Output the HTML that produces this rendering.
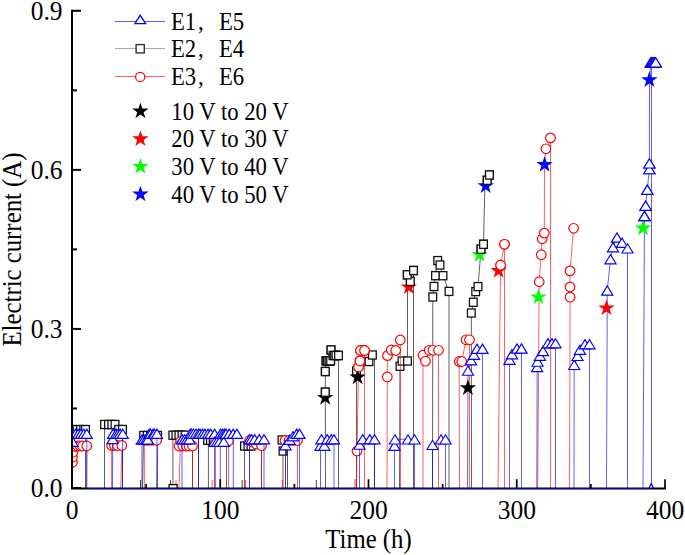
<!DOCTYPE html>
<html><head><meta charset="utf-8"><title>Electric current vs time</title>
<style>html,body{margin:0;padding:0;background:#fff;} svg{display:block;}</style>
</head><body>
<svg width="685" height="555" viewBox="0 0 685 555">
<defs><clipPath id="pc"><rect x="73" y="0" width="600" height="488"/></clipPath></defs>
<g clip-path="url(#pc)">
<path d="M72.50,429.60L77.00,429.60L80.50,429.60L83.70,429.60L85.50,429.60L85.50,488.00" fill="none" stroke="#000000" stroke-width="0.63"/>
<rect x="68.65" y="425.55" width="7.7" height="8.1" fill="#fff" stroke="#111" stroke-width="1.3"/>
<rect x="73.15" y="425.55" width="7.7" height="8.1" fill="#fff" stroke="#111" stroke-width="1.3"/>
<rect x="76.65" y="425.55" width="7.7" height="8.1" fill="#fff" stroke="#111" stroke-width="1.3"/>
<rect x="79.85" y="425.55" width="7.7" height="8.1" fill="#fff" stroke="#111" stroke-width="1.3"/>
<rect x="81.65" y="425.55" width="7.7" height="8.1" fill="#fff" stroke="#111" stroke-width="1.3"/>
<path d="M104.50,488.00L104.50,424.50L108.50,424.50L111.80,424.50L115.00,424.50L118.60,429.50L122.50,429.50L122.50,488.00" fill="none" stroke="#000000" stroke-width="0.63"/>
<rect x="100.65" y="420.45" width="7.7" height="8.1" fill="#fff" stroke="#111" stroke-width="1.3"/>
<rect x="104.65" y="420.45" width="7.7" height="8.1" fill="#fff" stroke="#111" stroke-width="1.3"/>
<rect x="107.95" y="420.45" width="7.7" height="8.1" fill="#fff" stroke="#111" stroke-width="1.3"/>
<rect x="111.15" y="420.45" width="7.7" height="8.1" fill="#fff" stroke="#111" stroke-width="1.3"/>
<rect x="114.75" y="425.45" width="7.7" height="8.1" fill="#fff" stroke="#111" stroke-width="1.3"/>
<rect x="118.65" y="425.45" width="7.7" height="8.1" fill="#fff" stroke="#111" stroke-width="1.3"/>
<path d="M142.50,488.00L143.60,435.50L147.20,435.50L150.50,435.50L154.00,435.50L157.60,435.50L157.50,488.00" fill="none" stroke="#000000" stroke-width="0.63"/>
<rect x="139.75" y="431.45" width="7.7" height="8.1" fill="#fff" stroke="#111" stroke-width="1.3"/>
<rect x="143.35" y="431.45" width="7.7" height="8.1" fill="#fff" stroke="#111" stroke-width="1.3"/>
<rect x="146.65" y="431.45" width="7.7" height="8.1" fill="#fff" stroke="#111" stroke-width="1.3"/>
<rect x="150.15" y="431.45" width="7.7" height="8.1" fill="#fff" stroke="#111" stroke-width="1.3"/>
<rect x="153.75" y="431.45" width="7.7" height="8.1" fill="#fff" stroke="#111" stroke-width="1.3"/>
<path d="M173.00,488.00L172.80,435.20L175.90,435.20L178.90,435.20L182.00,435.20L185.10,435.20L192.50,435.20L192.50,488.00" fill="none" stroke="#000000" stroke-width="0.63"/>
<rect x="168.95" y="431.15" width="7.7" height="8.1" fill="#fff" stroke="#111" stroke-width="1.3"/>
<rect x="172.05" y="431.15" width="7.7" height="8.1" fill="#fff" stroke="#111" stroke-width="1.3"/>
<rect x="175.05" y="431.15" width="7.7" height="8.1" fill="#fff" stroke="#111" stroke-width="1.3"/>
<rect x="178.15" y="431.15" width="7.7" height="8.1" fill="#fff" stroke="#111" stroke-width="1.3"/>
<rect x="181.25" y="431.15" width="7.7" height="8.1" fill="#fff" stroke="#111" stroke-width="1.3"/>
<path d="M208.40,488.00L208.40,440.30L207.60,440.30L210.40,440.30L213.20,440.30L226.50,440.30L226.50,488.00" fill="none" stroke="#000000" stroke-width="0.63"/>
<rect x="203.75" y="436.25" width="7.7" height="8.1" fill="#fff" stroke="#111" stroke-width="1.3"/>
<rect x="206.55" y="436.25" width="7.7" height="8.1" fill="#fff" stroke="#111" stroke-width="1.3"/>
<rect x="209.35" y="436.25" width="7.7" height="8.1" fill="#fff" stroke="#111" stroke-width="1.3"/>
<path d="M244.50,488.00L244.50,446.00L248.00,446.00L251.00,446.00L261.50,446.00L261.50,488.00" fill="none" stroke="#000000" stroke-width="0.63"/>
<rect x="240.65" y="441.95" width="7.7" height="8.1" fill="#fff" stroke="#111" stroke-width="1.3"/>
<rect x="244.15" y="441.95" width="7.7" height="8.1" fill="#fff" stroke="#111" stroke-width="1.3"/>
<rect x="247.15" y="441.95" width="7.7" height="8.1" fill="#fff" stroke="#111" stroke-width="1.3"/>
<path d="M283.00,488.00L283.00,451.00L282.00,440.00L287.50,440.00L287.50,488.00" fill="none" stroke="#000000" stroke-width="0.63"/>
<rect x="279.15" y="446.95" width="7.7" height="8.1" fill="#fff" stroke="#111" stroke-width="1.3"/>
<rect x="278.15" y="435.95" width="7.7" height="8.1" fill="#fff" stroke="#111" stroke-width="1.3"/>
<path d="M325.50,488.00L325.30,392.20L325.30,371.50L326.00,360.80L327.50,360.80L329.00,360.80L330.60,360.80L331.00,350.00L333.00,355.50L334.40,355.50L336.00,355.50L338.50,355.50L338.50,488.00" fill="none" stroke="#000000" stroke-width="0.63"/>
<rect x="321.45" y="388.15" width="7.7" height="8.1" fill="#fff" stroke="#111" stroke-width="1.3"/>
<rect x="321.45" y="367.45" width="7.7" height="8.1" fill="#fff" stroke="#111" stroke-width="1.3"/>
<rect x="322.15" y="356.75" width="7.7" height="8.1" fill="#fff" stroke="#111" stroke-width="1.3"/>
<rect x="323.65" y="356.75" width="7.7" height="8.1" fill="#fff" stroke="#111" stroke-width="1.3"/>
<rect x="325.15" y="356.75" width="7.7" height="8.1" fill="#fff" stroke="#111" stroke-width="1.3"/>
<rect x="326.75" y="356.75" width="7.7" height="8.1" fill="#fff" stroke="#111" stroke-width="1.3"/>
<rect x="327.15" y="345.95" width="7.7" height="8.1" fill="#fff" stroke="#111" stroke-width="1.3"/>
<rect x="329.15" y="351.45" width="7.7" height="8.1" fill="#fff" stroke="#111" stroke-width="1.3"/>
<rect x="330.55" y="351.45" width="7.7" height="8.1" fill="#fff" stroke="#111" stroke-width="1.3"/>
<rect x="332.15" y="351.45" width="7.7" height="8.1" fill="#fff" stroke="#111" stroke-width="1.3"/>
<rect x="334.65" y="351.45" width="7.7" height="8.1" fill="#fff" stroke="#111" stroke-width="1.3"/>
<path d="M356.50,488.00L356.50,371.00L360.00,362.00L369.00,361.50L372.40,355.00L374.50,358.00L374.50,488.00" fill="none" stroke="#000000" stroke-width="0.63"/>
<rect x="352.65" y="366.95" width="7.7" height="8.1" fill="#fff" stroke="#111" stroke-width="1.3"/>
<rect x="356.15" y="357.95" width="7.7" height="8.1" fill="#fff" stroke="#111" stroke-width="1.3"/>
<rect x="365.15" y="357.45" width="7.7" height="8.1" fill="#fff" stroke="#111" stroke-width="1.3"/>
<rect x="368.55" y="350.95" width="7.7" height="8.1" fill="#fff" stroke="#111" stroke-width="1.3"/>
<path d="M399.50,488.00L400.00,366.30L402.00,361.00L407.50,361.00L407.50,284.00L410.30,281.40L407.30,274.80L413.50,270.50L413.50,488.00" fill="none" stroke="#000000" stroke-width="0.63"/>
<rect x="396.15" y="362.25" width="7.7" height="8.1" fill="#fff" stroke="#111" stroke-width="1.3"/>
<rect x="398.15" y="356.95" width="7.7" height="8.1" fill="#fff" stroke="#111" stroke-width="1.3"/>
<rect x="403.65" y="356.95" width="7.7" height="8.1" fill="#fff" stroke="#111" stroke-width="1.3"/>
<rect x="406.45" y="277.35" width="7.7" height="8.1" fill="#fff" stroke="#111" stroke-width="1.3"/>
<rect x="403.45" y="270.75" width="7.7" height="8.1" fill="#fff" stroke="#111" stroke-width="1.3"/>
<rect x="409.65" y="266.45" width="7.7" height="8.1" fill="#fff" stroke="#111" stroke-width="1.3"/>
<path d="M432.50,488.00L432.80,297.00L434.00,286.50L435.50,275.70L437.70,260.60L440.00,265.00L443.00,275.70L449.00,291.40L449.00,488.00" fill="none" stroke="#000000" stroke-width="0.63"/>
<rect x="428.95" y="292.95" width="7.7" height="8.1" fill="#fff" stroke="#111" stroke-width="1.3"/>
<rect x="430.15" y="282.45" width="7.7" height="8.1" fill="#fff" stroke="#111" stroke-width="1.3"/>
<rect x="431.65" y="271.65" width="7.7" height="8.1" fill="#fff" stroke="#111" stroke-width="1.3"/>
<rect x="433.85" y="256.55" width="7.7" height="8.1" fill="#fff" stroke="#111" stroke-width="1.3"/>
<rect x="436.15" y="260.95" width="7.7" height="8.1" fill="#fff" stroke="#111" stroke-width="1.3"/>
<rect x="439.15" y="271.65" width="7.7" height="8.1" fill="#fff" stroke="#111" stroke-width="1.3"/>
<rect x="445.15" y="287.35" width="7.7" height="8.1" fill="#fff" stroke="#111" stroke-width="1.3"/>
<path d="M471.50,488.00L471.30,313.00L473.30,302.30L475.70,291.60L478.00,286.60L481.00,249.20L483.50,244.30L484.80,188.00L487.20,180.30L489.40,175.00" fill="none" stroke="#000000" stroke-width="0.63"/>
<rect x="467.45" y="308.95" width="7.7" height="8.1" fill="#fff" stroke="#111" stroke-width="1.3"/>
<rect x="469.45" y="298.25" width="7.7" height="8.1" fill="#fff" stroke="#111" stroke-width="1.3"/>
<rect x="471.85" y="287.55" width="7.7" height="8.1" fill="#fff" stroke="#111" stroke-width="1.3"/>
<rect x="474.15" y="282.55" width="7.7" height="8.1" fill="#fff" stroke="#111" stroke-width="1.3"/>
<rect x="477.15" y="245.15" width="7.7" height="8.1" fill="#fff" stroke="#111" stroke-width="1.3"/>
<rect x="479.65" y="240.25" width="7.7" height="8.1" fill="#fff" stroke="#111" stroke-width="1.3"/>
<rect x="483.35" y="176.25" width="7.7" height="8.1" fill="#fff" stroke="#111" stroke-width="1.3"/>
<rect x="485.55" y="170.95" width="7.7" height="8.1" fill="#fff" stroke="#111" stroke-width="1.3"/>
<path d="M72.50,462.30L72.50,457.30L73.00,452.20L75.00,446.50L77.50,446.00L80.00,446.00L82.50,446.00L86.80,446.00L86.50,488.00" fill="none" stroke="#ff0000" stroke-width="0.63"/>
<circle cx="72.50" cy="462.30" r="4.8" fill="#fff" stroke="#ff0000" stroke-width="1.2"/>
<circle cx="72.50" cy="457.30" r="4.8" fill="#fff" stroke="#ff0000" stroke-width="1.2"/>
<circle cx="73.00" cy="452.20" r="4.8" fill="#fff" stroke="#ff0000" stroke-width="1.2"/>
<circle cx="75.00" cy="446.50" r="4.8" fill="#fff" stroke="#ff0000" stroke-width="1.2"/>
<circle cx="77.50" cy="446.00" r="4.8" fill="#fff" stroke="#ff0000" stroke-width="1.2"/>
<circle cx="80.00" cy="446.00" r="4.8" fill="#fff" stroke="#ff0000" stroke-width="1.2"/>
<circle cx="82.50" cy="446.00" r="4.8" fill="#fff" stroke="#ff0000" stroke-width="1.2"/>
<circle cx="86.80" cy="446.00" r="4.8" fill="#fff" stroke="#ff0000" stroke-width="1.2"/>
<path d="M111.60,488.00L111.60,445.50L114.50,445.50L117.50,445.50L121.80,445.50L120.80,488.00" fill="none" stroke="#ff0000" stroke-width="0.63"/>
<circle cx="111.60" cy="445.50" r="4.8" fill="#fff" stroke="#ff0000" stroke-width="1.2"/>
<circle cx="114.50" cy="445.50" r="4.8" fill="#fff" stroke="#ff0000" stroke-width="1.2"/>
<circle cx="117.50" cy="445.50" r="4.8" fill="#fff" stroke="#ff0000" stroke-width="1.2"/>
<circle cx="121.80" cy="445.50" r="4.8" fill="#fff" stroke="#ff0000" stroke-width="1.2"/>
<path d="M144.40,488.00L144.40,440.30L148.00,440.30L152.00,440.30L156.60,440.30" fill="none" stroke="#ff0000" stroke-width="0.63"/>
<circle cx="144.40" cy="440.30" r="4.8" fill="#fff" stroke="#ff0000" stroke-width="1.2"/>
<circle cx="148.00" cy="440.30" r="4.8" fill="#fff" stroke="#ff0000" stroke-width="1.2"/>
<circle cx="152.00" cy="440.30" r="4.8" fill="#fff" stroke="#ff0000" stroke-width="1.2"/>
<circle cx="156.60" cy="440.30" r="4.8" fill="#fff" stroke="#ff0000" stroke-width="1.2"/>
<path d="M179.00,488.00L180.50,441.50L179.00,446.00L182.80,446.00L186.20,446.00L189.00,446.00L192.50,446.00L192.50,488.00" fill="none" stroke="#ff0000" stroke-width="0.63"/>
<circle cx="180.50" cy="441.50" r="4.8" fill="#fff" stroke="#ff0000" stroke-width="1.2"/>
<circle cx="179.00" cy="446.00" r="4.8" fill="#fff" stroke="#ff0000" stroke-width="1.2"/>
<circle cx="182.80" cy="446.00" r="4.8" fill="#fff" stroke="#ff0000" stroke-width="1.2"/>
<circle cx="186.20" cy="446.00" r="4.8" fill="#fff" stroke="#ff0000" stroke-width="1.2"/>
<circle cx="189.00" cy="446.00" r="4.8" fill="#fff" stroke="#ff0000" stroke-width="1.2"/>
<circle cx="192.50" cy="446.00" r="4.8" fill="#fff" stroke="#ff0000" stroke-width="1.2"/>
<path d="M215.50,488.00L215.50,441.00L219.00,441.00L222.00,441.00L225.00,441.00L228.50,441.00L228.50,488.00" fill="none" stroke="#ff0000" stroke-width="0.63"/>
<circle cx="215.50" cy="441.00" r="4.8" fill="#fff" stroke="#ff0000" stroke-width="1.2"/>
<circle cx="219.00" cy="441.00" r="4.8" fill="#fff" stroke="#ff0000" stroke-width="1.2"/>
<circle cx="222.00" cy="441.00" r="4.8" fill="#fff" stroke="#ff0000" stroke-width="1.2"/>
<circle cx="225.00" cy="441.00" r="4.8" fill="#fff" stroke="#ff0000" stroke-width="1.2"/>
<circle cx="228.50" cy="441.00" r="4.8" fill="#fff" stroke="#ff0000" stroke-width="1.2"/>
<path d="M249.50,488.00L249.50,440.50L252.50,442.00L256.00,444.00L261.50,445.70L261.50,488.00" fill="none" stroke="#ff0000" stroke-width="0.63"/>
<circle cx="249.50" cy="440.50" r="4.8" fill="#fff" stroke="#ff0000" stroke-width="1.2"/>
<circle cx="252.50" cy="442.00" r="4.8" fill="#fff" stroke="#ff0000" stroke-width="1.2"/>
<circle cx="256.00" cy="444.00" r="4.8" fill="#fff" stroke="#ff0000" stroke-width="1.2"/>
<circle cx="261.50" cy="445.70" r="4.8" fill="#fff" stroke="#ff0000" stroke-width="1.2"/>
<path d="M285.50,488.00L285.50,440.50L285.00,440.50L289.00,440.50L293.00,440.50L297.50,440.50L297.50,488.00" fill="none" stroke="#ff0000" stroke-width="0.63"/>
<circle cx="285.00" cy="440.50" r="4.8" fill="#fff" stroke="#ff0000" stroke-width="1.2"/>
<circle cx="289.00" cy="440.50" r="4.8" fill="#fff" stroke="#ff0000" stroke-width="1.2"/>
<circle cx="293.00" cy="440.50" r="4.8" fill="#fff" stroke="#ff0000" stroke-width="1.2"/>
<circle cx="297.50" cy="440.50" r="4.8" fill="#fff" stroke="#ff0000" stroke-width="1.2"/>
<path d="M356.50,488.00L357.00,451.00L358.50,367.00L360.00,361.00L360.50,350.50L364.50,350.50L364.50,488.00" fill="none" stroke="#ff0000" stroke-width="0.63"/>
<circle cx="357.00" cy="451.00" r="4.8" fill="#fff" stroke="#ff0000" stroke-width="1.2"/>
<circle cx="358.50" cy="367.00" r="4.8" fill="#fff" stroke="#ff0000" stroke-width="1.2"/>
<circle cx="360.00" cy="361.00" r="4.8" fill="#fff" stroke="#ff0000" stroke-width="1.2"/>
<circle cx="360.50" cy="350.50" r="4.8" fill="#fff" stroke="#ff0000" stroke-width="1.2"/>
<circle cx="364.50" cy="350.50" r="4.8" fill="#fff" stroke="#ff0000" stroke-width="1.2"/>
<path d="M387.00,488.00L387.30,377.00L387.50,355.60L391.30,350.00L395.70,350.50L400.30,340.00L400.50,488.00" fill="none" stroke="#ff0000" stroke-width="0.63"/>
<circle cx="387.30" cy="377.00" r="4.8" fill="#fff" stroke="#ff0000" stroke-width="1.2"/>
<circle cx="387.50" cy="355.60" r="4.8" fill="#fff" stroke="#ff0000" stroke-width="1.2"/>
<circle cx="391.30" cy="350.00" r="4.8" fill="#fff" stroke="#ff0000" stroke-width="1.2"/>
<circle cx="395.70" cy="350.50" r="4.8" fill="#fff" stroke="#ff0000" stroke-width="1.2"/>
<circle cx="400.30" cy="340.00" r="4.8" fill="#fff" stroke="#ff0000" stroke-width="1.2"/>
<path d="M423.00,488.00L423.00,355.20L425.50,361.20L429.20,350.30L433.00,350.30L438.50,350.30L438.50,488.00" fill="none" stroke="#ff0000" stroke-width="0.63"/>
<circle cx="423.00" cy="355.20" r="4.8" fill="#fff" stroke="#ff0000" stroke-width="1.2"/>
<circle cx="425.50" cy="361.20" r="4.8" fill="#fff" stroke="#ff0000" stroke-width="1.2"/>
<circle cx="429.20" cy="350.30" r="4.8" fill="#fff" stroke="#ff0000" stroke-width="1.2"/>
<circle cx="433.00" cy="350.30" r="4.8" fill="#fff" stroke="#ff0000" stroke-width="1.2"/>
<circle cx="438.50" cy="350.30" r="4.8" fill="#fff" stroke="#ff0000" stroke-width="1.2"/>
<path d="M459.50,488.00L459.20,361.50L461.80,361.50L466.00,339.80L469.50,339.80L469.50,488.00" fill="none" stroke="#ff0000" stroke-width="0.63"/>
<circle cx="459.20" cy="361.50" r="4.8" fill="#fff" stroke="#ff0000" stroke-width="1.2"/>
<circle cx="461.80" cy="361.50" r="4.8" fill="#fff" stroke="#ff0000" stroke-width="1.2"/>
<circle cx="466.00" cy="339.80" r="4.8" fill="#fff" stroke="#ff0000" stroke-width="1.2"/>
<circle cx="469.50" cy="339.80" r="4.8" fill="#fff" stroke="#ff0000" stroke-width="1.2"/>
<path d="M498.00,488.00L500.60,265.20L504.50,244.30L504.50,488.00" fill="none" stroke="#ff0000" stroke-width="0.63"/>
<circle cx="500.60" cy="265.20" r="4.8" fill="#fff" stroke="#ff0000" stroke-width="1.2"/>
<circle cx="504.50" cy="244.30" r="4.8" fill="#fff" stroke="#ff0000" stroke-width="1.2"/>
<path d="M537.70,488.00L539.20,281.70L541.30,254.70L542.20,238.80L544.30,233.10L544.50,164.00L545.90,148.80L550.50,137.90L550.50,488.00" fill="none" stroke="#ff0000" stroke-width="0.63"/>
<circle cx="539.20" cy="281.70" r="4.8" fill="#fff" stroke="#ff0000" stroke-width="1.2"/>
<circle cx="541.30" cy="254.70" r="4.8" fill="#fff" stroke="#ff0000" stroke-width="1.2"/>
<circle cx="542.20" cy="238.80" r="4.8" fill="#fff" stroke="#ff0000" stroke-width="1.2"/>
<circle cx="544.30" cy="233.10" r="4.8" fill="#fff" stroke="#ff0000" stroke-width="1.2"/>
<circle cx="545.90" cy="148.80" r="4.8" fill="#fff" stroke="#ff0000" stroke-width="1.2"/>
<circle cx="550.50" cy="137.90" r="4.8" fill="#fff" stroke="#ff0000" stroke-width="1.2"/>
<path d="M569.50,488.00L570.10,297.20L570.00,287.00L570.00,270.90L573.60,228.30" fill="none" stroke="#ff0000" stroke-width="0.63"/>
<circle cx="570.10" cy="297.20" r="4.8" fill="#fff" stroke="#ff0000" stroke-width="1.2"/>
<circle cx="570.00" cy="287.00" r="4.8" fill="#fff" stroke="#ff0000" stroke-width="1.2"/>
<circle cx="570.00" cy="270.90" r="4.8" fill="#fff" stroke="#ff0000" stroke-width="1.2"/>
<circle cx="573.60" cy="228.30" r="4.8" fill="#fff" stroke="#ff0000" stroke-width="1.2"/>
<path d="M72.50,488.00L72.50,441.50L73.00,433.60L75.50,433.60L78.30,433.60L81.00,433.60L83.80,433.60L86.80,433.60L86.80,488.00" fill="none" stroke="#0000ff" stroke-width="0.63"/>
<path d="M66.90,446.30L72.50,437.10L78.10,446.30Z" fill="#fff" stroke="#0000ff" stroke-width="1.15"/>
<path d="M67.40,438.40L73.00,429.20L78.60,438.40Z" fill="#fff" stroke="#0000ff" stroke-width="1.15"/>
<path d="M69.90,438.40L75.50,429.20L81.10,438.40Z" fill="#fff" stroke="#0000ff" stroke-width="1.15"/>
<path d="M72.70,438.40L78.30,429.20L83.90,438.40Z" fill="#fff" stroke="#0000ff" stroke-width="1.15"/>
<path d="M75.40,438.40L81.00,429.20L86.60,438.40Z" fill="#fff" stroke="#0000ff" stroke-width="1.15"/>
<path d="M78.20,438.40L83.80,429.20L89.40,438.40Z" fill="#fff" stroke="#0000ff" stroke-width="1.15"/>
<path d="M81.20,438.40L86.80,429.20L92.40,438.40Z" fill="#fff" stroke="#0000ff" stroke-width="1.15"/>
<path d="M112.50,488.00L112.70,438.80L113.10,433.50L116.10,433.50L118.10,433.50L120.20,433.50L122.70,433.50L122.50,488.00" fill="none" stroke="#0000ff" stroke-width="0.63"/>
<path d="M107.10,443.60L112.70,434.40L118.30,443.60Z" fill="#fff" stroke="#0000ff" stroke-width="1.15"/>
<path d="M107.50,438.30L113.10,429.10L118.70,438.30Z" fill="#fff" stroke="#0000ff" stroke-width="1.15"/>
<path d="M110.50,438.30L116.10,429.10L121.70,438.30Z" fill="#fff" stroke="#0000ff" stroke-width="1.15"/>
<path d="M112.50,438.30L118.10,429.10L123.70,438.30Z" fill="#fff" stroke="#0000ff" stroke-width="1.15"/>
<path d="M114.60,438.30L120.20,429.10L125.80,438.30Z" fill="#fff" stroke="#0000ff" stroke-width="1.15"/>
<path d="M117.10,438.30L122.70,429.10L128.30,438.30Z" fill="#fff" stroke="#0000ff" stroke-width="1.15"/>
<path d="M142.00,488.00L141.90,439.30L143.90,439.30L146.20,439.30L147.80,439.30L149.30,433.60L150.60,433.60L153.20,433.60L154.50,433.60L157.00,433.60L156.60,488.00" fill="none" stroke="#0000ff" stroke-width="0.63"/>
<path d="M136.30,444.10L141.90,434.90L147.50,444.10Z" fill="#fff" stroke="#0000ff" stroke-width="1.15"/>
<path d="M138.30,444.10L143.90,434.90L149.50,444.10Z" fill="#fff" stroke="#0000ff" stroke-width="1.15"/>
<path d="M140.60,444.10L146.20,434.90L151.80,444.10Z" fill="#fff" stroke="#0000ff" stroke-width="1.15"/>
<path d="M142.20,444.10L147.80,434.90L153.40,444.10Z" fill="#fff" stroke="#0000ff" stroke-width="1.15"/>
<path d="M143.70,438.40L149.30,429.20L154.90,438.40Z" fill="#fff" stroke="#0000ff" stroke-width="1.15"/>
<path d="M145.00,438.40L150.60,429.20L156.20,438.40Z" fill="#fff" stroke="#0000ff" stroke-width="1.15"/>
<path d="M147.60,438.40L153.20,429.20L158.80,438.40Z" fill="#fff" stroke="#0000ff" stroke-width="1.15"/>
<path d="M148.90,438.40L154.50,429.20L160.10,438.40Z" fill="#fff" stroke="#0000ff" stroke-width="1.15"/>
<path d="M151.40,438.40L157.00,429.20L162.60,438.40Z" fill="#fff" stroke="#0000ff" stroke-width="1.15"/>
<path d="M182.00,488.00L182.00,439.10L184.50,439.10L187.00,439.10L189.50,439.10L190.30,433.40L191.60,433.40L193.50,433.40L196.00,433.40L198.50,433.40L198.50,488.00" fill="none" stroke="#0000ff" stroke-width="0.63"/>
<path d="M176.40,443.90L182.00,434.70L187.60,443.90Z" fill="#fff" stroke="#0000ff" stroke-width="1.15"/>
<path d="M178.90,443.90L184.50,434.70L190.10,443.90Z" fill="#fff" stroke="#0000ff" stroke-width="1.15"/>
<path d="M181.40,443.90L187.00,434.70L192.60,443.90Z" fill="#fff" stroke="#0000ff" stroke-width="1.15"/>
<path d="M183.90,443.90L189.50,434.70L195.10,443.90Z" fill="#fff" stroke="#0000ff" stroke-width="1.15"/>
<path d="M184.70,438.20L190.30,429.00L195.90,438.20Z" fill="#fff" stroke="#0000ff" stroke-width="1.15"/>
<path d="M186.00,438.20L191.60,429.00L197.20,438.20Z" fill="#fff" stroke="#0000ff" stroke-width="1.15"/>
<path d="M187.90,438.20L193.50,429.00L199.10,438.20Z" fill="#fff" stroke="#0000ff" stroke-width="1.15"/>
<path d="M190.40,438.20L196.00,429.00L201.60,438.20Z" fill="#fff" stroke="#0000ff" stroke-width="1.15"/>
<path d="M192.90,438.20L198.50,429.00L204.10,438.20Z" fill="#fff" stroke="#0000ff" stroke-width="1.15"/>
<path d="M198.50,488.00L198.50,433.60L200.00,433.60L202.50,433.60L205.00,433.60L208.00,433.60L210.60,433.60L214.60,433.60L220.30,433.60L220.30,488.00" fill="none" stroke="#0000ff" stroke-width="0.63"/>
<path d="M194.40,438.40L200.00,429.20L205.60,438.40Z" fill="#fff" stroke="#0000ff" stroke-width="1.15"/>
<path d="M196.90,438.40L202.50,429.20L208.10,438.40Z" fill="#fff" stroke="#0000ff" stroke-width="1.15"/>
<path d="M199.40,438.40L205.00,429.20L210.60,438.40Z" fill="#fff" stroke="#0000ff" stroke-width="1.15"/>
<path d="M202.40,438.40L208.00,429.20L213.60,438.40Z" fill="#fff" stroke="#0000ff" stroke-width="1.15"/>
<path d="M205.00,438.40L210.60,429.20L216.20,438.40Z" fill="#fff" stroke="#0000ff" stroke-width="1.15"/>
<path d="M209.00,438.40L214.60,429.20L220.20,438.40Z" fill="#fff" stroke="#0000ff" stroke-width="1.15"/>
<path d="M214.50,488.00L214.50,441.50L217.00,441.50L219.50,441.50L223.70,441.50L220.50,433.60L222.60,433.60L224.50,433.60L226.00,433.60L229.20,433.60L233.20,433.60L236.90,433.60L233.30,438.00L233.30,488.00" fill="none" stroke="#0000ff" stroke-width="0.63"/>
<path d="M208.90,446.30L214.50,437.10L220.10,446.30Z" fill="#fff" stroke="#0000ff" stroke-width="1.15"/>
<path d="M211.40,446.30L217.00,437.10L222.60,446.30Z" fill="#fff" stroke="#0000ff" stroke-width="1.15"/>
<path d="M213.90,446.30L219.50,437.10L225.10,446.30Z" fill="#fff" stroke="#0000ff" stroke-width="1.15"/>
<path d="M218.10,446.30L223.70,437.10L229.30,446.30Z" fill="#fff" stroke="#0000ff" stroke-width="1.15"/>
<path d="M214.90,438.40L220.50,429.20L226.10,438.40Z" fill="#fff" stroke="#0000ff" stroke-width="1.15"/>
<path d="M217.00,438.40L222.60,429.20L228.20,438.40Z" fill="#fff" stroke="#0000ff" stroke-width="1.15"/>
<path d="M218.90,438.40L224.50,429.20L230.10,438.40Z" fill="#fff" stroke="#0000ff" stroke-width="1.15"/>
<path d="M220.40,438.40L226.00,429.20L231.60,438.40Z" fill="#fff" stroke="#0000ff" stroke-width="1.15"/>
<path d="M223.60,438.40L229.20,429.20L234.80,438.40Z" fill="#fff" stroke="#0000ff" stroke-width="1.15"/>
<path d="M227.60,438.40L233.20,429.20L238.80,438.40Z" fill="#fff" stroke="#0000ff" stroke-width="1.15"/>
<path d="M231.30,438.40L236.90,429.20L242.50,438.40Z" fill="#fff" stroke="#0000ff" stroke-width="1.15"/>
<path d="M249.50,488.00L249.50,439.00L251.50,439.00L254.60,439.00L259.30,439.00L264.00,439.00L264.00,488.00" fill="none" stroke="#0000ff" stroke-width="0.63"/>
<path d="M243.90,443.80L249.50,434.60L255.10,443.80Z" fill="#fff" stroke="#0000ff" stroke-width="1.15"/>
<path d="M245.90,443.80L251.50,434.60L257.10,443.80Z" fill="#fff" stroke="#0000ff" stroke-width="1.15"/>
<path d="M249.00,443.80L254.60,434.60L260.20,443.80Z" fill="#fff" stroke="#0000ff" stroke-width="1.15"/>
<path d="M253.70,443.80L259.30,434.60L264.90,443.80Z" fill="#fff" stroke="#0000ff" stroke-width="1.15"/>
<path d="M258.40,443.80L264.00,434.60L269.60,443.80Z" fill="#fff" stroke="#0000ff" stroke-width="1.15"/>
<path d="M285.50,488.00L285.50,445.00L289.50,439.50L293.00,436.00L296.60,433.60L299.50,433.60L299.50,488.00" fill="none" stroke="#0000ff" stroke-width="0.63"/>
<path d="M279.90,449.80L285.50,440.60L291.10,449.80Z" fill="#fff" stroke="#0000ff" stroke-width="1.15"/>
<path d="M283.90,444.30L289.50,435.10L295.10,444.30Z" fill="#fff" stroke="#0000ff" stroke-width="1.15"/>
<path d="M287.40,440.80L293.00,431.60L298.60,440.80Z" fill="#fff" stroke="#0000ff" stroke-width="1.15"/>
<path d="M291.00,438.40L296.60,429.20L302.20,438.40Z" fill="#fff" stroke="#0000ff" stroke-width="1.15"/>
<path d="M293.90,438.40L299.50,429.20L305.10,438.40Z" fill="#fff" stroke="#0000ff" stroke-width="1.15"/>
<path d="M320.50,488.00L320.50,445.50L324.40,445.50L321.50,439.00L327.30,439.00L331.30,439.00L334.00,439.00L334.00,488.00" fill="none" stroke="#0000ff" stroke-width="0.63"/>
<path d="M314.90,450.30L320.50,441.10L326.10,450.30Z" fill="#fff" stroke="#0000ff" stroke-width="1.15"/>
<path d="M318.80,450.30L324.40,441.10L330.00,450.30Z" fill="#fff" stroke="#0000ff" stroke-width="1.15"/>
<path d="M315.90,443.80L321.50,434.60L327.10,443.80Z" fill="#fff" stroke="#0000ff" stroke-width="1.15"/>
<path d="M321.70,443.80L327.30,434.60L332.90,443.80Z" fill="#fff" stroke="#0000ff" stroke-width="1.15"/>
<path d="M325.70,443.80L331.30,434.60L336.90,443.80Z" fill="#fff" stroke="#0000ff" stroke-width="1.15"/>
<path d="M328.40,443.80L334.00,434.60L339.60,443.80Z" fill="#fff" stroke="#0000ff" stroke-width="1.15"/>
<path d="M359.50,488.00L359.50,444.40L362.70,439.00L369.80,439.00L374.50,439.00L374.50,488.00" fill="none" stroke="#0000ff" stroke-width="0.63"/>
<path d="M353.90,449.20L359.50,440.00L365.10,449.20Z" fill="#fff" stroke="#0000ff" stroke-width="1.15"/>
<path d="M357.10,443.80L362.70,434.60L368.30,443.80Z" fill="#fff" stroke="#0000ff" stroke-width="1.15"/>
<path d="M364.20,443.80L369.80,434.60L375.40,443.80Z" fill="#fff" stroke="#0000ff" stroke-width="1.15"/>
<path d="M368.90,443.80L374.50,434.60L380.10,443.80Z" fill="#fff" stroke="#0000ff" stroke-width="1.15"/>
<path d="M394.50,488.00L394.50,445.60L395.00,439.20L408.00,439.20L414.50,439.20L414.50,488.00" fill="none" stroke="#0000ff" stroke-width="0.63"/>
<path d="M388.90,450.40L394.50,441.20L400.10,450.40Z" fill="#fff" stroke="#0000ff" stroke-width="1.15"/>
<path d="M389.40,444.00L395.00,434.80L400.60,444.00Z" fill="#fff" stroke="#0000ff" stroke-width="1.15"/>
<path d="M402.40,444.00L408.00,434.80L413.60,444.00Z" fill="#fff" stroke="#0000ff" stroke-width="1.15"/>
<path d="M408.90,444.00L414.50,434.80L420.10,444.00Z" fill="#fff" stroke="#0000ff" stroke-width="1.15"/>
<path d="M432.50,488.00L432.50,444.70L441.00,439.20L445.50,439.20L445.50,488.00" fill="none" stroke="#0000ff" stroke-width="0.63"/>
<path d="M426.90,449.50L432.50,440.30L438.10,449.50Z" fill="#fff" stroke="#0000ff" stroke-width="1.15"/>
<path d="M435.40,444.00L441.00,434.80L446.60,444.00Z" fill="#fff" stroke="#0000ff" stroke-width="1.15"/>
<path d="M439.90,444.00L445.50,434.80L451.10,444.00Z" fill="#fff" stroke="#0000ff" stroke-width="1.15"/>
<path d="M467.50,488.00L468.00,370.40L471.00,360.00L474.00,354.50L477.00,348.60L482.50,348.60L482.50,488.00" fill="none" stroke="#0000ff" stroke-width="0.63"/>
<path d="M462.40,375.20L468.00,366.00L473.60,375.20Z" fill="#fff" stroke="#0000ff" stroke-width="1.15"/>
<path d="M465.40,364.80L471.00,355.60L476.60,364.80Z" fill="#fff" stroke="#0000ff" stroke-width="1.15"/>
<path d="M468.40,359.30L474.00,350.10L479.60,359.30Z" fill="#fff" stroke="#0000ff" stroke-width="1.15"/>
<path d="M471.40,353.40L477.00,344.20L482.60,353.40Z" fill="#fff" stroke="#0000ff" stroke-width="1.15"/>
<path d="M476.90,353.40L482.50,344.20L488.10,353.40Z" fill="#fff" stroke="#0000ff" stroke-width="1.15"/>
<path d="M509.50,488.00L509.50,359.50L512.00,354.00L517.00,348.30L521.50,348.30L521.50,488.00" fill="none" stroke="#0000ff" stroke-width="0.63"/>
<path d="M503.90,364.30L509.50,355.10L515.10,364.30Z" fill="#fff" stroke="#0000ff" stroke-width="1.15"/>
<path d="M506.40,358.80L512.00,349.60L517.60,358.80Z" fill="#fff" stroke="#0000ff" stroke-width="1.15"/>
<path d="M511.40,353.10L517.00,343.90L522.60,353.10Z" fill="#fff" stroke="#0000ff" stroke-width="1.15"/>
<path d="M515.90,353.10L521.50,343.90L527.10,353.10Z" fill="#fff" stroke="#0000ff" stroke-width="1.15"/>
<path d="M536.80,488.00L537.20,366.80L537.50,361.40L540.00,355.50L543.00,350.80L548.00,343.00L552.00,343.00L555.50,343.00L555.50,488.00" fill="none" stroke="#0000ff" stroke-width="0.63"/>
<path d="M531.60,371.60L537.20,362.40L542.80,371.60Z" fill="#fff" stroke="#0000ff" stroke-width="1.15"/>
<path d="M531.90,366.20L537.50,357.00L543.10,366.20Z" fill="#fff" stroke="#0000ff" stroke-width="1.15"/>
<path d="M534.40,360.30L540.00,351.10L545.60,360.30Z" fill="#fff" stroke="#0000ff" stroke-width="1.15"/>
<path d="M537.40,355.60L543.00,346.40L548.60,355.60Z" fill="#fff" stroke="#0000ff" stroke-width="1.15"/>
<path d="M542.40,347.80L548.00,338.60L553.60,347.80Z" fill="#fff" stroke="#0000ff" stroke-width="1.15"/>
<path d="M546.40,347.80L552.00,338.60L557.60,347.80Z" fill="#fff" stroke="#0000ff" stroke-width="1.15"/>
<path d="M549.90,347.80L555.50,338.60L561.10,347.80Z" fill="#fff" stroke="#0000ff" stroke-width="1.15"/>
<path d="M574.00,488.00L574.20,364.70L577.50,355.70L580.00,349.50L585.00,344.00L589.50,344.00L589.50,488.00" fill="none" stroke="#0000ff" stroke-width="0.63"/>
<path d="M568.60,369.50L574.20,360.30L579.80,369.50Z" fill="#fff" stroke="#0000ff" stroke-width="1.15"/>
<path d="M571.90,360.50L577.50,351.30L583.10,360.50Z" fill="#fff" stroke="#0000ff" stroke-width="1.15"/>
<path d="M574.40,354.30L580.00,345.10L585.60,354.30Z" fill="#fff" stroke="#0000ff" stroke-width="1.15"/>
<path d="M579.40,348.80L585.00,339.60L590.60,348.80Z" fill="#fff" stroke="#0000ff" stroke-width="1.15"/>
<path d="M583.90,348.80L589.50,339.60L595.10,348.80Z" fill="#fff" stroke="#0000ff" stroke-width="1.15"/>
<path d="M606.50,488.00L607.30,290.30L610.50,259.00L613.00,247.00L617.00,237.30L622.00,242.50L627.50,248.20L627.50,488.00" fill="none" stroke="#0000ff" stroke-width="0.63"/>
<path d="M601.70,295.10L607.30,285.90L612.90,295.10Z" fill="#fff" stroke="#0000ff" stroke-width="1.15"/>
<path d="M604.90,263.80L610.50,254.60L616.10,263.80Z" fill="#fff" stroke="#0000ff" stroke-width="1.15"/>
<path d="M607.40,251.80L613.00,242.60L618.60,251.80Z" fill="#fff" stroke="#0000ff" stroke-width="1.15"/>
<path d="M611.40,242.10L617.00,232.90L622.60,242.10Z" fill="#fff" stroke="#0000ff" stroke-width="1.15"/>
<path d="M616.40,247.30L622.00,238.10L627.60,247.30Z" fill="#fff" stroke="#0000ff" stroke-width="1.15"/>
<path d="M621.90,253.00L627.50,243.80L633.10,253.00Z" fill="#fff" stroke="#0000ff" stroke-width="1.15"/>
<path d="M643.00,488.00L644.50,215.80L645.60,205.50L647.30,189.50L649.40,168.90L649.40,163.20L649.50,79.50L650.80,62.20L651.80,62.20L652.80,62.20L653.80,62.20L654.80,62.20L655.70,62.20" fill="none" stroke="#0000ff" stroke-width="0.63"/>
<path d="M638.90,220.60L644.50,211.40L650.10,220.60Z" fill="#fff" stroke="#0000ff" stroke-width="1.15"/>
<path d="M640.00,210.30L645.60,201.10L651.20,210.30Z" fill="#fff" stroke="#0000ff" stroke-width="1.15"/>
<path d="M641.70,194.30L647.30,185.10L652.90,194.30Z" fill="#fff" stroke="#0000ff" stroke-width="1.15"/>
<path d="M643.80,173.70L649.40,164.50L655.00,173.70Z" fill="#fff" stroke="#0000ff" stroke-width="1.15"/>
<path d="M643.80,168.00L649.40,158.80L655.00,168.00Z" fill="#fff" stroke="#0000ff" stroke-width="1.15"/>
<path d="M645.20,67.00L650.80,57.80L656.40,67.00Z" fill="#fff" stroke="#0000ff" stroke-width="1.15"/>
<path d="M646.20,67.00L651.80,57.80L657.40,67.00Z" fill="#fff" stroke="#0000ff" stroke-width="1.15"/>
<path d="M647.20,67.00L652.80,57.80L658.40,67.00Z" fill="#fff" stroke="#0000ff" stroke-width="1.15"/>
<path d="M648.20,67.00L653.80,57.80L659.40,67.00Z" fill="#fff" stroke="#0000ff" stroke-width="1.15"/>
<path d="M649.20,67.00L654.80,57.80L660.40,67.00Z" fill="#fff" stroke="#0000ff" stroke-width="1.15"/>
<path d="M650.10,67.00L655.70,57.80L661.30,67.00Z" fill="#fff" stroke="#0000ff" stroke-width="1.15"/>
<path d="M651.50,67.00L651.50,488.00" fill="none" stroke="#0000ff" stroke-width="0.63"/>
<polygon points="325.20,389.13 327.15,395.12 333.45,395.12 328.35,398.82 330.30,404.81 325.20,401.11 320.10,404.81 322.05,398.82 316.95,395.12 323.25,395.12" fill="#000"/>
<polygon points="357.60,368.53 359.55,374.52 365.85,374.52 360.75,378.22 362.70,384.21 357.60,380.51 352.50,384.21 354.45,378.22 349.35,374.52 355.65,374.52" fill="#000"/>
<polygon points="467.90,379.33 469.85,385.32 476.15,385.32 471.05,389.02 473.00,395.01 467.90,391.31 462.80,395.01 464.75,389.02 459.65,385.32 465.95,385.32" fill="#000"/>
<polygon points="408.90,278.43 410.85,284.42 417.15,284.42 412.05,288.12 414.00,294.11 408.90,290.41 403.80,294.11 405.75,288.12 400.65,284.42 406.95,284.42" fill="#ff0000"/>
<polygon points="498.60,262.13 500.55,268.12 506.85,268.12 501.75,271.82 503.70,277.81 498.60,274.11 493.50,277.81 495.45,271.82 490.35,268.12 496.65,268.12" fill="#ff0000"/>
<polygon points="606.50,299.43 608.45,305.42 614.75,305.42 609.65,309.12 611.60,315.11 606.50,311.41 601.40,315.11 603.35,309.12 598.25,305.42 604.55,305.42" fill="#ff0000"/>
<polygon points="479.60,246.13 481.55,252.12 487.85,252.12 482.75,255.82 484.70,261.81 479.60,258.11 474.50,261.81 476.45,255.82 471.35,252.12 477.65,252.12" fill="#00ff00"/>
<polygon points="538.50,288.43 540.45,294.42 546.75,294.42 541.65,298.12 543.60,304.11 538.50,300.41 533.40,304.11 535.35,298.12 530.25,294.42 536.55,294.42" fill="#00ff00"/>
<polygon points="643.00,219.53 644.95,225.52 651.25,225.52 646.15,229.22 648.10,235.21 643.00,231.51 637.90,235.21 639.85,229.22 634.75,225.52 641.05,225.52" fill="#00ff00"/>
<polygon points="485.70,177.23 487.65,183.22 493.95,183.22 488.85,186.92 490.80,192.91 485.70,189.21 480.60,192.91 482.55,186.92 477.45,183.22 483.75,183.22" fill="#0000ff"/>
<polygon points="544.60,156.03 546.55,162.02 552.85,162.02 547.75,165.72 549.70,171.71 544.60,168.01 539.50,171.71 541.45,165.72 536.35,162.02 542.65,162.02" fill="#0000ff"/>
<polygon points="649.40,71.23 651.35,77.22 657.65,77.22 652.55,80.92 654.50,86.91 649.40,83.21 644.30,86.91 646.25,80.92 641.15,77.22 647.45,77.22" fill="#0000ff"/>
<rect x="321.45" y="388.15" width="7.7" height="8.1" fill="#fff" stroke="#111" stroke-width="1.3"/>
<rect x="321.45" y="367.45" width="7.7" height="8.1" fill="#fff" stroke="#111" stroke-width="1.3"/>
<rect x="322.15" y="356.75" width="7.7" height="8.1" fill="#fff" stroke="#111" stroke-width="1.3"/>
<rect x="323.65" y="356.75" width="7.7" height="8.1" fill="#fff" stroke="#111" stroke-width="1.3"/>
<rect x="325.15" y="356.75" width="7.7" height="8.1" fill="#fff" stroke="#111" stroke-width="1.3"/>
<rect x="326.75" y="356.75" width="7.7" height="8.1" fill="#fff" stroke="#111" stroke-width="1.3"/>
<rect x="327.15" y="345.95" width="7.7" height="8.1" fill="#fff" stroke="#111" stroke-width="1.3"/>
<rect x="329.15" y="351.45" width="7.7" height="8.1" fill="#fff" stroke="#111" stroke-width="1.3"/>
<rect x="330.55" y="351.45" width="7.7" height="8.1" fill="#fff" stroke="#111" stroke-width="1.3"/>
<rect x="332.15" y="351.45" width="7.7" height="8.1" fill="#fff" stroke="#111" stroke-width="1.3"/>
<rect x="334.65" y="351.45" width="7.7" height="8.1" fill="#fff" stroke="#111" stroke-width="1.3"/>
<rect x="406.45" y="277.35" width="7.7" height="8.1" fill="#fff" stroke="#111" stroke-width="1.3"/>
<rect x="403.45" y="270.75" width="7.7" height="8.1" fill="#fff" stroke="#111" stroke-width="1.3"/>
<rect x="409.65" y="266.45" width="7.7" height="8.1" fill="#fff" stroke="#111" stroke-width="1.3"/>
<rect x="477.15" y="245.15" width="7.7" height="8.1" fill="#fff" stroke="#111" stroke-width="1.3"/>
<rect x="479.65" y="240.25" width="7.7" height="8.1" fill="#fff" stroke="#111" stroke-width="1.3"/>
<rect x="483.35" y="176.25" width="7.7" height="8.1" fill="#fff" stroke="#111" stroke-width="1.3"/>
<rect x="485.55" y="170.95" width="7.7" height="8.1" fill="#fff" stroke="#111" stroke-width="1.3"/>
<circle cx="358.50" cy="367.00" r="4.8" fill="#fff" stroke="#ff0000" stroke-width="1.2"/>
<circle cx="360.00" cy="361.00" r="4.8" fill="#fff" stroke="#ff0000" stroke-width="1.2"/>
<circle cx="360.50" cy="350.50" r="4.8" fill="#fff" stroke="#ff0000" stroke-width="1.2"/>
<circle cx="364.50" cy="350.50" r="4.8" fill="#fff" stroke="#ff0000" stroke-width="1.2"/>
<circle cx="500.60" cy="265.20" r="4.8" fill="#fff" stroke="#ff0000" stroke-width="1.2"/>
<circle cx="504.50" cy="244.30" r="4.8" fill="#fff" stroke="#ff0000" stroke-width="1.2"/>
<path d="M638.90,220.60L644.50,211.40L650.10,220.60Z" fill="#fff" stroke="#0000ff" stroke-width="1.15"/>
<path d="M640.00,210.30L645.60,201.10L651.20,210.30Z" fill="#fff" stroke="#0000ff" stroke-width="1.15"/>
<path d="M641.70,194.30L647.30,185.10L652.90,194.30Z" fill="#fff" stroke="#0000ff" stroke-width="1.15"/>
<path d="M643.80,173.70L649.40,164.50L655.00,173.70Z" fill="#fff" stroke="#0000ff" stroke-width="1.15"/>
<path d="M643.80,168.00L649.40,158.80L655.00,168.00Z" fill="#fff" stroke="#0000ff" stroke-width="1.15"/>
<path d="M645.20,67.00L650.80,57.80L656.40,67.00Z" fill="#fff" stroke="#0000ff" stroke-width="1.15"/>
<path d="M646.20,67.00L651.80,57.80L657.40,67.00Z" fill="#fff" stroke="#0000ff" stroke-width="1.15"/>
<path d="M647.20,67.00L652.80,57.80L658.40,67.00Z" fill="#fff" stroke="#0000ff" stroke-width="1.15"/>
<path d="M648.20,67.00L653.80,57.80L659.40,67.00Z" fill="#fff" stroke="#0000ff" stroke-width="1.15"/>
<path d="M649.20,67.00L654.80,57.80L660.40,67.00Z" fill="#fff" stroke="#0000ff" stroke-width="1.15"/>
<path d="M650.10,67.00L655.70,57.80L661.30,67.00Z" fill="#fff" stroke="#0000ff" stroke-width="1.15"/>
<line x1="140.5" y1="488" x2="140.5" y2="480" stroke="#444" stroke-width="1"/>
<line x1="170.5" y1="488" x2="170.5" y2="480" stroke="#444" stroke-width="1"/>
<line x1="176" y1="488" x2="176" y2="480" stroke="#ff6060" stroke-width="1"/>
<line x1="212.2" y1="488" x2="212.2" y2="480" stroke="#ff6060" stroke-width="1"/>
<line x1="242.2" y1="488" x2="242.2" y2="480" stroke="#444" stroke-width="1"/>
<line x1="245.3" y1="488" x2="245.3" y2="480" stroke="#ff3030" stroke-width="1"/>
<line x1="282.4" y1="488" x2="282.4" y2="480" stroke="#ff3030" stroke-width="1"/>
<line x1="316.3" y1="488" x2="316.3" y2="480" stroke="#444" stroke-width="1"/>
<line x1="355" y1="488" x2="355" y2="479" stroke="#ff3030" stroke-width="1"/>
<rect x="169.10" y="484.6" width="8" height="8" fill="#fff" stroke="#111" stroke-width="1.3"/>
<path d="M647.2,492L651.2,483.5L655.2,492" fill="#fff" stroke="#0000ff" stroke-width="1.25"/>
</g>
<line x1="72" y1="9.8" x2="72" y2="489" stroke="#000" stroke-width="2"/>
<line x1="71" y1="488.5" x2="666" y2="488.5" stroke="#000" stroke-width="1.8"/>
<line x1="86.5" y1="488.5" x2="651" y2="488.5" stroke="#0000b0" stroke-width="1"/>
<line x1="72" y1="488.00" x2="81" y2="488.00" stroke="#000" stroke-width="2"/>
<line x1="72" y1="328.93" x2="81" y2="328.93" stroke="#000" stroke-width="2"/>
<line x1="72" y1="169.87" x2="81" y2="169.87" stroke="#000" stroke-width="2"/>
<line x1="72" y1="10.80" x2="81" y2="10.80" stroke="#000" stroke-width="2"/>
<line x1="72" y1="408.47" x2="77" y2="408.47" stroke="#000" stroke-width="2"/>
<line x1="72" y1="249.40" x2="77" y2="249.40" stroke="#000" stroke-width="2"/>
<line x1="72" y1="90.33" x2="77" y2="90.33" stroke="#000" stroke-width="2"/>
<line x1="72.00" y1="488" x2="72.00" y2="479.2" stroke="#000" stroke-width="1.7"/>
<line x1="220.25" y1="488" x2="220.25" y2="479.2" stroke="#000" stroke-width="1.7"/>
<line x1="368.50" y1="488" x2="368.50" y2="479.2" stroke="#000" stroke-width="1.7"/>
<line x1="516.75" y1="488" x2="516.75" y2="479.2" stroke="#000" stroke-width="1.7"/>
<line x1="665.00" y1="488" x2="665.00" y2="479.2" stroke="#000" stroke-width="1.7"/>
<line x1="146.12" y1="488" x2="146.12" y2="484" stroke="#000" stroke-width="1.7"/>
<line x1="294.38" y1="488" x2="294.38" y2="484" stroke="#000" stroke-width="1.7"/>
<line x1="442.62" y1="488" x2="442.62" y2="484" stroke="#000" stroke-width="1.7"/>
<line x1="590.88" y1="488" x2="590.88" y2="484" stroke="#000" stroke-width="1.7"/>
<text transform="translate(62.50,496.80) scale(1,1.09)" font-family="Liberation Serif" font-size="25.5" text-anchor="end">0.0</text>
<text transform="translate(62.50,337.73) scale(1,1.09)" font-family="Liberation Serif" font-size="25.5" text-anchor="end">0.3</text>
<text transform="translate(62.50,178.67) scale(1,1.09)" font-family="Liberation Serif" font-size="25.5" text-anchor="end">0.6</text>
<text transform="translate(62.50,19.60) scale(1,1.09)" font-family="Liberation Serif" font-size="25.5" text-anchor="end">0.9</text>
<text transform="translate(72.00,518.70) scale(1,1.09)" font-family="Liberation Serif" font-size="25.5" text-anchor="middle">0</text>
<text transform="translate(220.25,518.70) scale(1,1.09)" font-family="Liberation Serif" font-size="25.5" text-anchor="middle">100</text>
<text transform="translate(368.50,518.70) scale(1,1.09)" font-family="Liberation Serif" font-size="25.5" text-anchor="middle">200</text>
<text transform="translate(516.75,518.70) scale(1,1.09)" font-family="Liberation Serif" font-size="25.5" text-anchor="middle">300</text>
<text transform="translate(665.00,518.70) scale(1,1.09)" font-family="Liberation Serif" font-size="25.5" text-anchor="middle">400</text>
<text transform="translate(368.50,548.20) scale(1,1.08)" font-family="Liberation Serif" font-size="24.8" text-anchor="middle">Time (h)</text>
<text transform="translate(21.00,249.50) rotate(-90) scale(1,1.08)" font-family="Liberation Serif" font-size="24.8" text-anchor="middle">Electric current (A)</text>
<line x1="115" y1="21.5" x2="165" y2="21.5" stroke="#0000ff" stroke-width="0.63"/>
<path d="M134.9,23.6L140.2,15.3L145.6,23.6Z" fill="#fff" stroke="#0000ff" stroke-width="1.3"/>
<text transform="translate(171.00,29.50) scale(1,1.1)" font-family="Liberation Serif" font-size="22.7">E1</text>
<text transform="translate(198.00,29.50) scale(1,1.1)" font-family="Liberation Serif" font-size="22.7">,</text>
<text transform="translate(219.00,29.50) scale(1,1.1)" font-family="Liberation Serif" font-size="22.7">E5</text>
<line x1="115" y1="48.5" x2="165" y2="48.5" stroke="#a8a8a8" stroke-width="1"/>
<rect x="136.1" y="44.6" width="8.2" height="8.3" fill="#fff" stroke="#333" stroke-width="1.4"/>
<text transform="translate(171.00,56.50) scale(1,1.1)" font-family="Liberation Serif" font-size="22.7">E2</text>
<text transform="translate(198.00,56.50) scale(1,1.1)" font-family="Liberation Serif" font-size="22.7">,</text>
<text transform="translate(219.00,56.50) scale(1,1.1)" font-family="Liberation Serif" font-size="22.7">E4</text>
<line x1="115" y1="76.5" x2="165" y2="76.5" stroke="#ff0000" stroke-width="0.63"/>
<circle cx="140.2" cy="76.9" r="4.6" fill="#fff" stroke="#ff0000" stroke-width="1.2"/>
<text transform="translate(171.00,84.50) scale(1,1.1)" font-family="Liberation Serif" font-size="22.7">E3</text>
<text transform="translate(198.00,84.50) scale(1,1.1)" font-family="Liberation Serif" font-size="22.7">,</text>
<text transform="translate(219.00,84.50) scale(1,1.1)" font-family="Liberation Serif" font-size="22.7">E6</text>
<polygon points="140.45,102.63 142.40,108.62 148.70,108.62 143.60,112.32 145.55,118.31 140.45,114.61 135.35,118.31 137.30,112.32 132.20,108.62 138.50,108.62" fill="#000"/>
<text transform="translate(171.30,119.50) scale(1,1.1)" font-family="Liberation Serif" font-size="22.7">10 V to 20 V</text>
<polygon points="140.45,130.33 142.40,136.32 148.70,136.32 143.60,140.02 145.55,146.01 140.45,142.31 135.35,146.01 137.30,140.02 132.20,136.32 138.50,136.32" fill="#ff0000"/>
<text transform="translate(171.30,147.20) scale(1,1.1)" font-family="Liberation Serif" font-size="22.7">20 V to 30 V</text>
<polygon points="140.45,157.93 142.40,163.92 148.70,163.92 143.60,167.62 145.55,173.61 140.45,169.91 135.35,173.61 137.30,167.62 132.20,163.92 138.50,163.92" fill="#00ff00"/>
<text transform="translate(171.30,174.80) scale(1,1.1)" font-family="Liberation Serif" font-size="22.7">30 V to 40 V</text>
<polygon points="140.45,185.63 142.40,191.62 148.70,191.62 143.60,195.32 145.55,201.31 140.45,197.61 135.35,201.31 137.30,195.32 132.20,191.62 138.50,191.62" fill="#0000ff"/>
<text transform="translate(171.30,202.50) scale(1,1.1)" font-family="Liberation Serif" font-size="22.7">40 V to 50 V</text>
</svg>
</body></html>
